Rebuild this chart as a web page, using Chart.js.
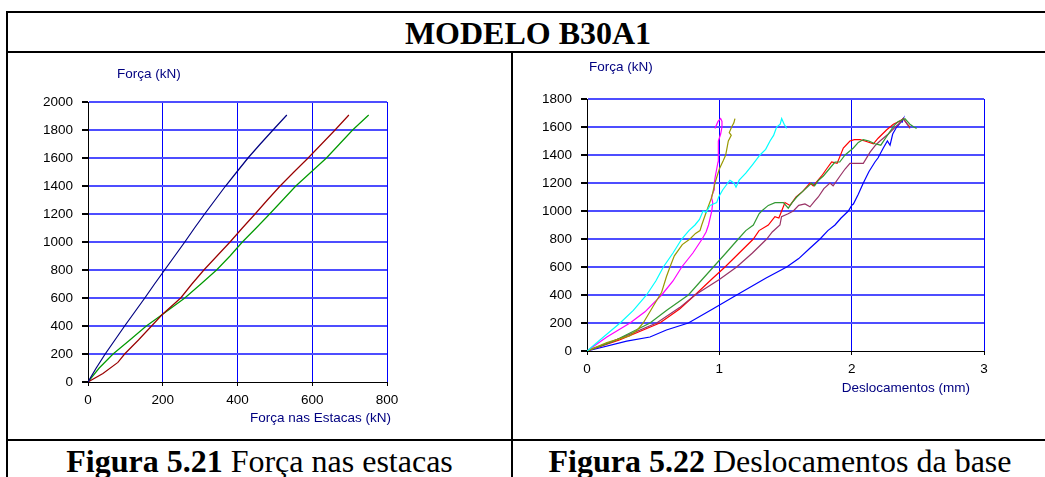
<!DOCTYPE html>
<html>
<head>
<meta charset="utf-8">
<script src="https://cdn.jsdelivr.net/npm/chart.js@4.4.1/dist/chart.umd.min.js"></script>
<style>
  body { margin: 0; background: #fff; }
  #page { position: relative; width: 1045px; height: 477px; overflow: hidden; background: #fff; }
  .hl, .vl { position: absolute; background: #000; }
  .serif { position: absolute; font-family: "Liberation Serif", "Times New Roman", serif; font-size: 32px; line-height: 32px; color: #000; text-align: center; white-space: nowrap; }
  canvas { position: absolute; }
</style>
</head>
<body>
<div id="page">
  <div class="hl" style="left:6px; top:11px; width:1045px; height:2px"></div>
  <div class="hl" style="left:6px; top:51px; width:1045px; height:2px"></div>
  <div class="hl" style="left:6px; top:439px; width:1045px; height:2px"></div>
  <div class="vl" style="left:6px; top:11px; width:2px; height:470px"></div>
  <div class="vl" style="left:511px; top:51px; width:2px; height:430px"></div>

  <div class="serif" style="left:0; top:17px; width:1056px; font-weight:bold">MODELO B30A1</div>

  <canvas id="leftChart" width="503" height="386" style="left:8px; top:53px"></canvas>
  <canvas id="rightChart" width="532" height="386" style="left:513px; top:53px"></canvas>

  <div class="serif" style="left:7px; top:445px; width:505px"><b>Figura 5.21</b> Força nas estacas</div>
  <div class="serif" style="left:513px; top:445px; width:534px"><b>Figura 5.22</b> Deslocamentos da base</div>
</div>

<script>
// Figura 5.21 - [força na estaca (kN), força aplicada (kN)]
const pileNavy = [[0,0],[22,100],[46,200],[72,300],[98,400],[125,500],[152,600],[178,700],[205,800],[232,900],[259,1000],[285,1100],[312,1200],[340,1300],[368,1400],[398,1500],[428,1600],[461,1700],[495,1800],[532,1907]];
const pileRed = [[0,0],[40,60],[80,140],[98,200],[135,300],[170,400],[198,480],[248,600],[278,700],[310,800],[345,900],[380,1000],[413,1100],[447,1200],[480,1300],[514,1400],[551,1500],[589,1600],[625,1700],[661,1800],[698,1907]];
const pileGreen = [[0,0],[30,100],[67,200],[112,300],[156,400],[198,480],[259,600],[302,700],[344,800],[380,900],[413,1000],[450,1100],[486,1200],[521,1300],[556,1400],[597,1500],[638,1600],[673,1700],[708,1800],[751,1907]];
const pileXTicks = [0, 200, 400, 600, 800];
const pileYTicks = [0, 200, 400, 600, 800, 1000, 1200, 1400, 1600, 1800, 2000];

// Figura 5.22 - [deslocamento (mm), força (kN)]
const dispCyan = [[0,0],[0.1,80],[0.25,200],[0.35,290],[0.45,400],[0.52,500],[0.577,600],[0.65,700],[0.716,800],[0.77,860],[0.816,900],[0.85,940],[0.877,1000],[0.9,990],[0.93,1040],[0.98,1060],[0.995,1100],[1.025,1150],[1.064,1200],[1.08,1220],[1.11,1200],[1.126,1170],[1.15,1220],[1.2,1270],[1.25,1330],[1.307,1400],[1.35,1440],[1.383,1500],[1.41,1540],[1.433,1600],[1.46,1620],[1.471,1660],[1.49,1620],[1.509,1590]];
const dispOlive = [[0,0],[0.15,60],[0.325,110],[0.38,150],[0.425,200],[0.5,320],[0.564,420],[0.6,530],[0.627,600],[0.66,680],[0.72,760],[0.778,800],[0.82,840],[0.854,860],[0.867,900],[0.904,1000],[0.943,1100],[0.967,1200],[1.0,1300],[1.03,1360],[1.048,1400],[1.06,1460],[1.068,1500],[1.09,1540],[1.075,1560],[1.093,1600],[1.11,1630],[1.118,1660]];
const dispMagenta = [[0,0],[0.15,100],[0.325,200],[0.438,280],[0.564,400],[0.65,500],[0.716,600],[0.8,700],[0.87,800],[0.9,850],[0.918,900],[0.943,1000],[0.95,1060],[0.94,1100],[0.96,1150],[0.962,1200],[0.97,1250],[0.98,1300],[0.99,1350],[0.995,1450],[0.99,1500],[1.01,1550],[1.02,1600],[1.02,1640],[1.01,1660],[0.99,1640],[0.967,1590]];
const dispGreen = [[0,0],[0.2,70],[0.476,200],[0.6,290],[0.766,400],[0.86,500],[0.955,600],[1.05,700],[1.143,800],[1.2,860],[1.257,900],[1.3,980],[1.32,1000],[1.37,1040],[1.421,1060],[1.484,1060],[1.521,1020],[1.55,1060],[1.585,1100],[1.63,1140],[1.698,1200],[1.72,1180],[1.75,1220],[1.786,1250],[1.83,1300],[1.874,1350],[1.91,1350],[1.95,1400],[2.013,1450],[2.05,1490],[2.088,1510],[2.13,1500],[2.176,1480],[2.22,1470],[2.277,1550],[2.32,1610],[2.353,1640],[2.403,1660],[2.44,1620],[2.47,1600],[2.491,1590]];
const dispRed = [[0,0],[0.25,80],[0.55,200],[0.7,300],[0.816,400],[0.95,520],[1.043,600],[1.15,700],[1.257,800],[1.3,860],[1.37,900],[1.42,960],[1.45,950],[1.496,1060],[1.534,1040],[1.58,1100],[1.63,1140],[1.685,1200],[1.71,1180],[1.773,1250],[1.81,1300],[1.849,1350],[1.89,1340],[1.937,1450],[1.987,1500],[2.02,1510],[2.063,1510],[2.1,1500],[2.164,1480],[2.2,1520],[2.265,1580],[2.315,1620],[2.36,1640],[2.39,1660],[2.42,1620],[2.441,1600]];
const dispPurple = [[0,0],[0.25,90],[0.526,200],[0.7,310],[0.816,400],[1.0,510],[1.131,600],[1.25,700],[1.358,800],[1.40,850],[1.458,900],[1.47,960],[1.52,980],[1.559,1000],[1.6,1040],[1.647,1050],[1.685,1030],[1.72,1070],[1.748,1100],[1.79,1160],[1.836,1200],[1.86,1180],[1.912,1250],[1.95,1300],[1.987,1340],[2.04,1340],[2.088,1340],[2.139,1420],[2.18,1470],[2.214,1500],[2.277,1550],[2.33,1600],[2.365,1630],[2.39,1660],[2.42,1620],[2.441,1590]];
const dispBlue = [[0,0],[0.3,70],[0.476,100],[0.6,150],[0.766,200],[0.95,300],[1.131,400],[1.35,520],[1.509,600],[1.6,660],[1.68,730],[1.761,800],[1.82,860],[1.874,900],[1.92,950],[1.975,1000],[2.0,1040],[2.013,1050],[2.05,1120],[2.088,1200],[2.13,1280],[2.176,1350],[2.2,1380],[2.239,1450],[2.27,1500],[2.29,1470],[2.31,1550],[2.34,1600],[2.36,1620],[2.39,1660],[2.38,1630]];
const dispXTicks = [0, 1, 2, 3];
const dispYTicks = [0, 200, 400, 600, 800, 1000, 1200, 1400, 1600, 1800];

const FONT = { family: '"Liberation Sans", Arial, sans-serif', size: 13.5 };

// axis titles sit horizontally above / below the plot, like the Excel originals
const axisTitles = {
    id: 'axisTitles',
    afterDraw(chart, args, opts) {
        const { ctx, chartArea: a } = chart;
        ctx.save();
        ctx.font = '13.5px "Liberation Sans", Arial, sans-serif';
        ctx.fillStyle = '#000080';
        ctx.textBaseline = 'middle';
        ctx.textAlign = 'left';
        ctx.fillText(opts.y.text, a.left + opts.y.dx, a.top + opts.y.dy);
        ctx.textAlign = 'right';
        ctx.fillText(opts.x.text, a.right + opts.x.dx, a.bottom + opts.x.dy);
        ctx.restore();
    },
};

const line = (data, color) => ({
    data: data.map(([x, y]) => ({ x, y })),
    borderColor: color,
    borderWidth: 1.2,
    pointRadius: 0,
    showLine: true,
    tension: 0,
});

const gridColor = (c) => (ctx) => (ctx.tick && ctx.tick.value === 0 ? 'rgba(0,0,0,0)' : c);

function scale(ticks, size, isY) {
    return {
        type: 'linear',
        min: ticks[0],
        max: ticks[ticks.length - 1],
        afterBuildTicks: (s) => { s.ticks = ticks.map((v) => ({ value: v })); },
        afterFit: (s) => { if (isY) s.width = size; else s.height = size; },
        grid: {
            color: gridColor(isY ? '#4d4dff' : '#0000ff'),
            lineWidth: isY ? 2 : 1,
            tickColor: '#000',
            tickLength: isY ? 6 : 4,
        },
        border: { color: '#000', width: 1 },
        ticks: {
            color: '#000',
            font: FONT,
            padding: isY ? 9 : 6,
            autoSkip: false,
            maxRotation: 0,
            callback: (v) => String(v),
        },
    };
}

function makeChart(id, datasets, xTicks, yTicks, box, titles) {
    new Chart(document.getElementById(id), {
        type: 'scatter',
        data: { datasets },
        plugins: [axisTitles],
        options: {
            responsive: false,
            animation: false,
            devicePixelRatio: 1,
            layout: { padding: { top: box.top, right: box.right, left: 0, bottom: 0 } },
            scales: {
                x: scale(xTicks, box.xh, false),
                y: scale(yTicks, box.yw, true),
            },
            plugins: {
                legend: { display: false },
                tooltip: { enabled: false },
                axisTitles: titles,
            },
        },
    });
}

makeChart('leftChart', [
    line(pileNavy, '#000080'),
    line(pileRed, '#990000'),
    line(pileGreen, '#009900'),
], pileXTicks, pileYTicks,
{ top: 49, right: 124, yw: 80, xh: 57 },
{ y: { text: 'Força (kN)', dx: 29, dy: -28 }, x: { text: 'Força nas Estacas (kN)', dx: 4, dy: 36 } });

makeChart('rightChart', [
    line(dispCyan, '#00ffff'),
    line(dispOlive, '#999900'),
    line(dispMagenta, '#ff00ff'),
    line(dispGreen, '#339933'),
    line(dispPurple, '#993366'),
    line(dispRed, '#ff0000'),
    line(dispBlue, '#0000ff'),
], dispXTicks, dispYTicks,
{ top: 46, right: 61, yw: 74, xh: 88 },
{ y: { text: 'Força (kN)', dx: 2, dy: -32 }, x: { text: 'Deslocamentos (mm)', dx: -14, dy: 37 } });
</script>
</body>
</html>
